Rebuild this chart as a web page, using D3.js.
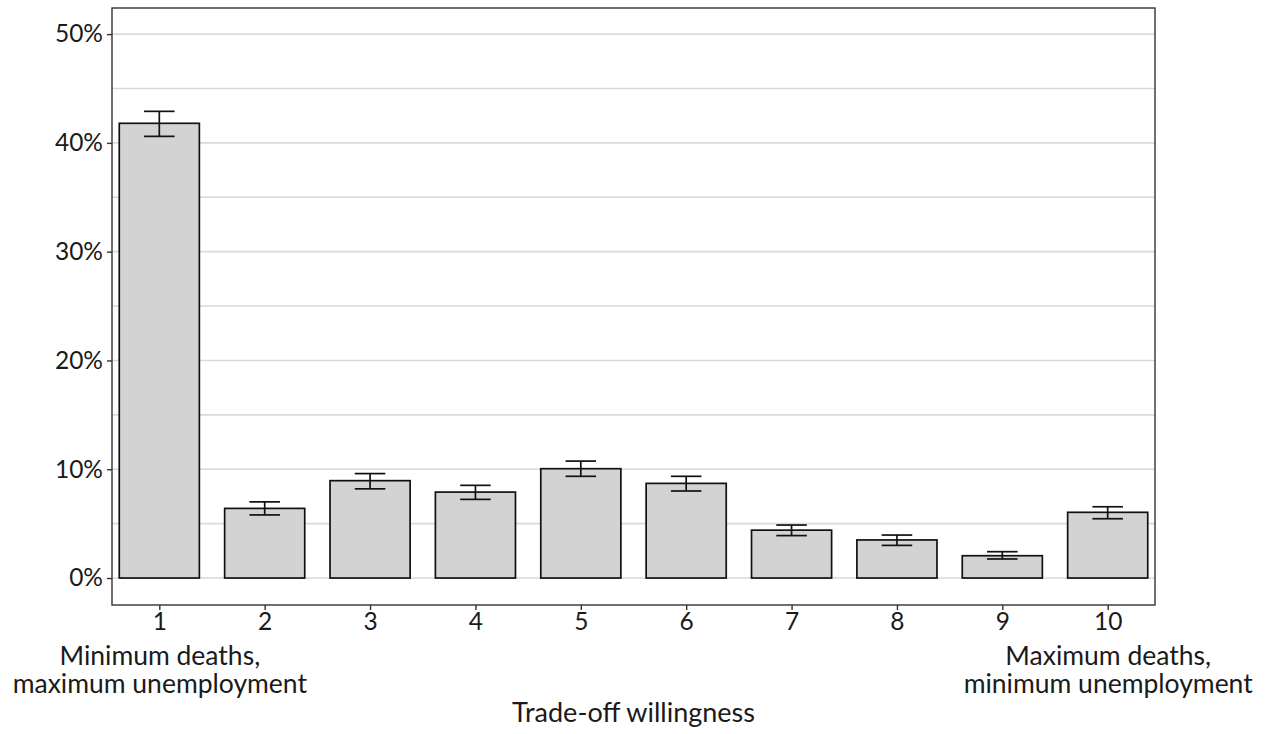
<!DOCTYPE html>
<html>
<head>
<meta charset="utf-8">
<script src="https://cdn.jsdelivr.net/npm/d3@7"></script>
<style>
  html, body { margin: 0; padding: 0; background: #ffffff; }
  svg { display: block; }
  text { font-family: Lato, "Open Sans", sans-serif; fill: #1a1a1a; }
</style>
</head>
<body>
<svg id="chart" width="1269" height="734"></svg>
<script>
// ---- data ----
const categories = [1, 2, 3, 4, 5, 6, 7, 8, 9, 10];
const shares     = [0.418, 0.064, 0.0895, 0.079, 0.1005, 0.087, 0.044, 0.035, 0.0205, 0.0604];
const errLow     = [0.406, 0.058, 0.082, 0.0723, 0.0935, 0.080, 0.039, 0.030, 0.0175, 0.0545];
const errHigh    = [0.429, 0.070, 0.096, 0.0852, 0.1075, 0.0935, 0.0487, 0.0395, 0.0242, 0.0655];
const yMajorTicks = [0, 0.1, 0.2, 0.3, 0.4, 0.5];
const yMinorTicks = [0.05, 0.15, 0.25, 0.35, 0.45];
const tickLabels = {
  1: ["Minimum deaths,", "maximum unemployment"],
  10: ["Maximum deaths,", "minimum unemployment"]
};
const xTitle = "Trade-off willingness";

// ---- layout ----
const svg = d3.select("#chart");
const panel = { left: 112, right: 1155, top: 8, bottom: 605 };

const x = d3.scaleLinear().domain([0.551, 10.449]).range([panel.left, panel.right]);
const y = d3.scaleLinear().domain([-0.0248, 0.524]).range([panel.bottom, panel.top]);

const barW = 0.76, capW = 0.29;
const unit = x(1) - x(0);

// gridlines
svg.append("g").selectAll("line").data(yMinorTicks.concat(yMajorTicks)).join("line")
  .attr("x1", panel.left).attr("x2", panel.right)
  .attr("y1", d => y(d)).attr("y2", d => y(d))
  .attr("stroke", "#d9d9d9").attr("stroke-width", 1.6);

// bars
const data = categories.map((c, i) => ({ c, v: shares[i], lo: errLow[i], hi: errHigh[i] }));
svg.append("g").selectAll("rect").data(data).join("rect")
  .attr("x", d => x(d.c) - barW * unit / 2)
  .attr("width", barW * unit)
  .attr("y", d => y(d.v))
  .attr("height", d => y(0) - y(d.v))
  .attr("fill", "#d3d3d3")
  .attr("stroke", "#111111").attr("stroke-width", 1.7);

// error bars
const eb = svg.append("g").attr("stroke", "#111111").attr("stroke-width", 1.7);
eb.selectAll("line.v").data(data).join("line").attr("class", "v")
  .attr("x1", d => x(d.c)).attr("x2", d => x(d.c))
  .attr("y1", d => y(d.lo)).attr("y2", d => y(d.hi));
eb.selectAll("line.t").data(data).join("line").attr("class", "t")
  .attr("x1", d => x(d.c) - capW * unit / 2).attr("x2", d => x(d.c) + capW * unit / 2)
  .attr("y1", d => y(d.hi)).attr("y2", d => y(d.hi));
eb.selectAll("line.b").data(data).join("line").attr("class", "b")
  .attr("x1", d => x(d.c) - capW * unit / 2).attr("x2", d => x(d.c) + capW * unit / 2)
  .attr("y1", d => y(d.lo)).attr("y2", d => y(d.lo));

// panel border
svg.append("rect")
  .attr("x", panel.left).attr("y", panel.top)
  .attr("width", panel.right - panel.left).attr("height", panel.bottom - panel.top)
  .attr("fill", "none").attr("stroke", "#333333").attr("stroke-width", 1.4);

// y axis
const yAxis = d3.axisLeft(y).tickValues(yMajorTicks).tickFormat(d3.format(".0%"))
  .tickSize(5).tickPadding(4);
const gy = svg.append("g").attr("transform", `translate(${panel.left},0)`).call(yAxis);
gy.select(".domain").remove();
gy.selectAll(".tick line").attr("stroke", "#333333").attr("stroke-width", 1.4);
gy.selectAll(".tick text").attr("font-size", 24.5).attr("font-family", "Lato").attr("fill", "#1a1a1a");

// x axis
const xAxis = d3.axisBottom(x).tickValues(categories).tickFormat(d3.format("d"))
  .tickSize(5).tickPadding(3);
const gx = svg.append("g").attr("transform", `translate(0,${panel.bottom})`).call(xAxis);
gx.select(".domain").remove();
gx.selectAll(".tick line").attr("stroke", "#333333").attr("stroke-width", 1.4);
gx.selectAll(".tick text").attr("font-size", 24.5).attr("font-family", "Lato").attr("fill", "#1a1a1a");

// extra multi-line tick labels, one text per line
gx.selectAll(".tick").each(function(d) {
  const lines = tickLabels[d];
  if (!lines) return;
  const g = d3.select(this);
  lines.forEach((ln, i) => {
    g.append("text")
      .attr("text-anchor", "middle")
      .attr("font-size", 26.5).attr("font-family", "Lato").attr("fill", "#1a1a1a")
      .attr("x", 0).attr("y", 59.5 + i * 28)
      .text(ln);
  });
});

// x title
svg.append("text")
  .attr("x", (panel.left + panel.right) / 2)
  .attr("y", 722)
  .attr("text-anchor", "middle")
  .attr("font-size", 27)
  .text(xTitle);
</script>
</body>
</html>
